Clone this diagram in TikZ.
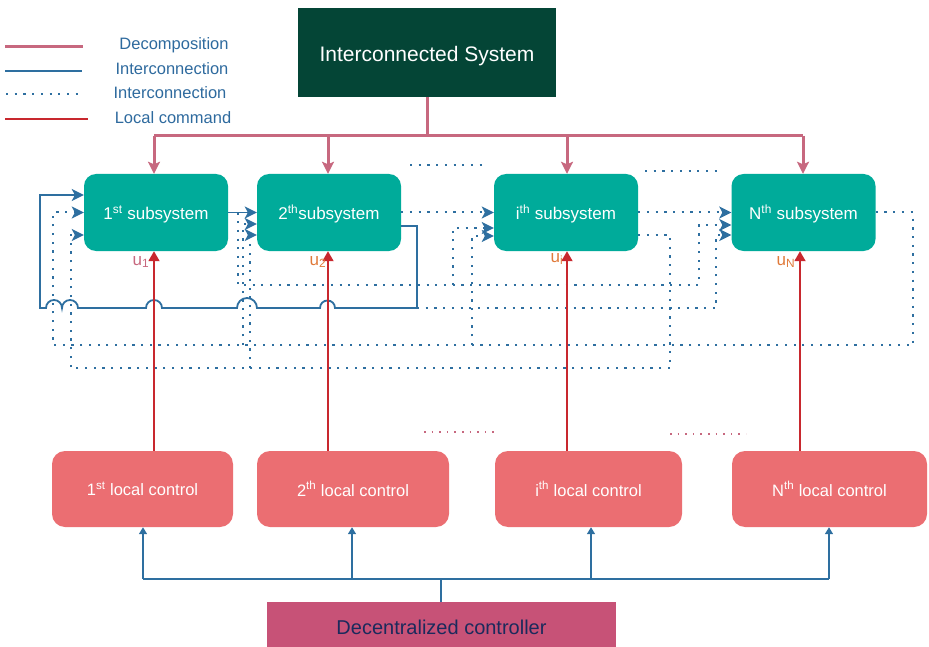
\documentclass[tikz,border=0pt]{standalone}
\usepackage{fontspec}
\setmainfont{Liberation Sans}
\usetikzlibrary{arrows.meta}
\definecolor{dkgreen}{HTML}{044536}
\definecolor{tealbox}{HTML}{00AB9A}
\definecolor{salmon}{HTML}{EB6E72}
\definecolor{magbox}{HTML}{C75277}
\definecolor{navy}{HTML}{1B2A5C}
\definecolor{decomp}{HTML}{C7687F}
\definecolor{ibl}{HTML}{2E6FA0}
\definecolor{lred}{HTML}{C8282E}
\definecolor{legtxt}{HTML}{2E6A9E}
\definecolor{uorange}{HTML}{E07A3A}
\begin{document}
\begin{tikzpicture}[x=1pt,y=-1pt,
  box/.style={rectangle,inner sep=0pt,text=white},
  subsys/.style={box,fill=tealbox,rounded corners=12pt,minimum width=144pt,minimum height=77pt,font=\fontsize{17}{20}\selectfont,text height=14pt,text depth=0pt},
  locctl/.style={box,fill=salmon,rounded corners=13pt,minimum height=76pt,font=\fontsize{16.5}{20}\selectfont},
  decline/.style={draw=decomp,line width=3pt},
  decarrow/.style={decline,-{Stealth[length=12pt,width=12pt,inset=2.5pt]}},
  isol/.style={draw=ibl,line width=1.8pt},
  idot/.style={draw=ibl,line width=2pt,dash pattern=on 2.2pt off 6.5pt},
  iarrow/.style={-{Stealth[length=12pt,width=12pt,inset=3pt]}},
  cmd/.style={draw=lred,line width=1.8pt,-{Triangle[length=10pt,width=11pt]}},
  ctl/.style={draw=ibl,line width=1.5pt},
  ctlarrow/.style={ctl,-{Triangle[length=7pt,width=8pt]}},
  legtext/.style={text=legtxt,font=\fontsize{16.5}{20}\selectfont,inner sep=0pt},
  ulab/.style={font=\fontsize{17}{20}\selectfont,inner sep=0pt},
  pdot/.style={draw=decomp,line width=1.4pt,dash pattern=on 1.6pt off 6pt}
]
\useasboundingbox (0,0) rectangle (929,647);

% ---- boxes
\node[box,fill=dkgreen,minimum width=258pt,minimum height=89pt,font=\fontsize{21}{24}\selectfont,text height=18pt,text depth=0pt] (sys) at (427,52.5) {Interconnected System};
\node[subsys] (s1) at (156,212.5) {1\textsuperscript{st} subsystem};
\node[subsys] (s2) at (329,212.5) {2\textsuperscript{th}subsystem};
\node[subsys] (s3) at (566,212.5) {i\textsuperscript{th} subsystem};
\node[subsys] (s4) at (803.5,212.5) {N\textsuperscript{th} subsystem};
\node[locctl,minimum width=181pt] (l1) at (142.5,489) {1\textsuperscript{st} local control};
\node[locctl,minimum width=192pt] (l2) at (353,489) {2\textsuperscript{th} local control};
\node[locctl,minimum width=187pt] (l3) at (588.5,489) {i\textsuperscript{th} local control};
\node[locctl,minimum width=195pt] (l4) at (829.5,489) {N\textsuperscript{th} local control};
\node[box,fill=magbox,minimum width=349pt,minimum height=50pt,text=navy,font=\fontsize{20}{24}\selectfont] (dec) at (441.5,627) {Decentralized controller};

% ---- legend
\coordinate (lg1a) at (5,47);  \coordinate (lg1b) at (83,47);
\coordinate (lg2a) at (5,71);  \coordinate (lg2b) at (82,71);
\coordinate (lg3a) at (6,94);  \coordinate (lg3b) at (78,94);
\coordinate (lg4a) at (5,119); \coordinate (lg4b) at (88,119);
\draw[decline] (lg1a) -- (lg1b);
\draw[isol] (lg2a) -- (lg2b);
\draw[idot] (lg3a) -- (lg3b);
\draw[draw=lred,line width=1.8pt] (lg4a) -- (lg4b);
\node[legtext] (lt1) at (174,45) {Decomposition};
\node[legtext] (lt2) at (172,69) {Interconnection};
\node[legtext] (lt3) at (170,93) {Interconnection};
\node[legtext] (lt4) at (173,118) {Local command};

% ---- ellipsis dots
\coordinate (g1a) at (410,165); \coordinate (g1b) at (484,165);
\coordinate (g2a) at (645,171); \coordinate (g2b) at (721,171);
\coordinate (g3a) at (424,432); \coordinate (g3b) at (498,432);
\coordinate (g4a) at (670,434); \coordinate (g4b) at (746,434);
\draw[idot] (g1a) -- (g1b);
\draw[idot] (g2a) -- (g2b);
\draw[pdot] (g3a) -- (g3b);
\draw[pdot] (g4a) -- (g4b);

% ---- decomposition
\coordinate (d1) at (154,136); \coordinate (d2) at (328,136);
\coordinate (d3) at (567,136); \coordinate (d4) at (803,136);
\draw[decline] (sys.south) -- (sys.south |- d1);
\draw[decline] (d1) -- (d4);
\draw[decarrow] (d1) -- (s1.north -| d1);
\draw[decarrow] (d2) -- (s2.north -| d2);
\draw[decarrow] (d3) -- (s3.north -| d3);
\draw[decarrow] (d4) -- (s4.north -| d4);

% ---- dotted interconnections
% Nth -> 1st, 2th, ith (bus at 345)
\coordinate (n1) at (913,345);
\draw[idot,iarrow] (s4.east) -| (n1) -- (53,345) |- (s1.west);
\draw[idot,iarrow] (243,345) |- ([yshift=-11.5pt]s2.west);
\draw[idot,iarrow] (472,345) |- ([yshift=-23.5pt]s3.west);
% ith -> 1st, 2th (bus at 368)
\coordinate (m1) at (670,368);
\draw[idot] ([yshift=-22.5pt]s3.east) -| (m1);
\draw[idot,iarrow] (m1) -- (71,368) |- ([yshift=-22.5pt]s1.west);
\draw[idot,iarrow] (250,368) |- ([yshift=-22.5pt]s2.west);
% 1st -> ith, Nth (bus at 285)
\coordinate (t1) at (238,212.5);
\draw[idot,iarrow] (t1) -- (238,285) -- (699,285) |- ([yshift=-12.5pt]s4.west);
\draw[idot,iarrow] (453,285) |- ([yshift=-15.5pt]s3.west);
% 2th -> ith, Nth
\coordinate (k1) at (417,308);
\draw[idot,iarrow] (s2.east) -- (s3.west);
\draw[idot,iarrow] (k1) -- (716,308) |- ([yshift=-22.5pt]s4.west);
% ith -> Nth
\draw[idot,iarrow] (s3.east) -- (s4.west);

% ---- solid interconnections
\draw[isol,iarrow] (s1.east) -- (s2.west);
\draw[isol,iarrow] ([yshift=-13.5pt]s2.east) -| (k1) -- (335,308)
  arc[start angle=0,end angle=180,radius=7.5pt] -- (257,308)
  arc[start angle=0,end angle=180,radius=10pt] -- (162,308)
  arc[start angle=0,end angle=180,radius=8pt] -- (78,308)
  arc[start angle=0,end angle=180,radius=8pt]
  arc[start angle=0,end angle=180,radius=8pt] -- (40,308)
  |- ([yshift=17.5pt]s1.west);

% ---- local commands
\coordinate (r4) at (800,136);
\draw[cmd] (l1.north -| d1) -- (s1.south -| d1);
\draw[cmd] (l2.north -| d2) -- (s2.south -| d2);
\draw[cmd] (l3.north -| d3) -- (s3.south -| d3);
\draw[cmd] (l4.north -| r4) -- (s4.south -| r4);
\node[ulab,text=decomp] (u1) at (141,262) {u\textsubscript{1}};
\node[ulab,text=uorange] (u2) at (318,262) {u\textsubscript{2}};
\node[ulab,text=uorange] (u3) at (557,259) {u\textsubscript{i}};
\node[ulab,text=uorange] (u4) at (786,262) {u\textsubscript{N}};

% ---- controller distribution
\coordinate (bj) at (441,579);
\coordinate (b1) at (143,579); \coordinate (b2) at (352,579);
\coordinate (b3) at (591,579); \coordinate (b4) at (829,579);
\draw[ctl] (dec.north -| bj) -- (bj);
\draw[ctl] (b1) -- (b4);
\draw[ctlarrow] (b1) -- (l1.south -| b1);
\draw[ctlarrow] (b2) -- (l2.south -| b2);
\draw[ctlarrow] (b3) -- (l3.south -| b3);
\draw[ctlarrow] (b4) -- (l4.south -| b4);
\end{tikzpicture}
\end{document}
